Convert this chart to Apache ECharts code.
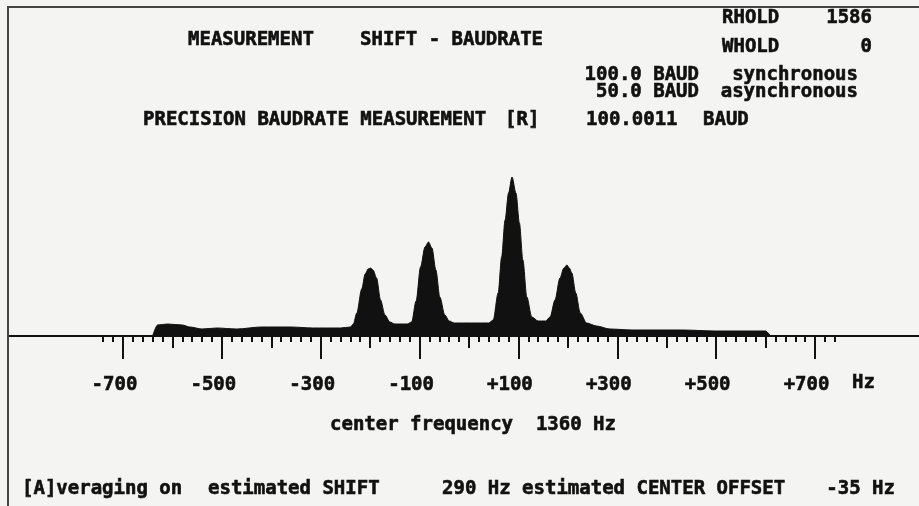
<!DOCTYPE html>
<html><head><meta charset="utf-8">
<script src="https://cdn.jsdelivr.net/npm/echarts@6/dist/echarts.min.js"></script>
<style>html,body{margin:0;padding:0;background:#f4f4f2;}#c{width:919px;height:506px;}</style>
</head><body><div id="c"></div><script>
// spectrum: frequency offset (Hz) and amplitude (arbitrary units)
const freqHz = [-640,-630,-610,-580,-565,-540,-510,-470,-420,-360,-316,-260,-240,-234,-227,-217,-210,-204,-199,-194,-187,-179,-170,-160,-150,-125,-116,-107,-98,-89,-82,-75,-67,-59,-49,-40,-30,40,49,59,66,73,80,87,95,102,109,117,127,140,155,164,174,184,192,198,203,208,216,225,238,258,285,330,430,500,600,610];
const amplitude = [0,11,12,11,9,7,8,7,9,9,8,8,9,12,23,47,62,67,68,66,58,36,21,14,12,12,14,35,69,89,94,88,66,39,21,15,13,13,16,43,79,116,143,159,143,113,76,39,19,15,15,19,36,58,68,71,68,63,43,23,13,10,7,6,6,5,5,0];
const minorStepHz = 20;
const midTickHz = [-600,-400,-200,0,200,400,600];
const majorTickHz = [-700,-500,-300,-100,100,300,500,700];
const tickLabels = ['-700','-500','-300','-100','+100','+300','+500','+700'];

const FONT = 'bold 19px "DejaVu Sans Mono"';
const INK = '#111';
function txt(x, y, s, align) {
  return {type:'text', x:x, y:y, z:10, style:{text:s, font:FONT, fill:INK, stroke:INK, lineWidth:0.6,
    textAlign:align||'left', textVerticalAlign:'middle'}};
}
const chart = echarts.init(document.getElementById('c'), null, {renderer:'canvas'});
const axisBase = {type:'value', gridIndex:0, min:-740, max:740, position:'bottom',
  axisLine:{show:false}, splitLine:{show:false}};
const option = {
  backgroundColor:'#f4f4f2',
  animation:false,
  grid:{left:103.2, right:84.2, top:136, bottom:170},
  xAxis:[
    Object.assign({}, axisBase, {interval:minorStepHz,
      axisTick:{show:true, length:6, lineStyle:{width:2, color:INK}},
      axisLabel:{show:false}}),
    Object.assign({}, axisBase, {
      axisTick:{show:true, customValues:midTickHz, length:12, lineStyle:{width:2, color:INK}},
      axisLabel:{show:false}}),
    Object.assign({}, axisBase, {
      axisTick:{show:true, customValues:majorTickHz, length:23, lineStyle:{width:2, color:INK}},
      axisLabel:{show:true, customValues:majorTickHz, margin:40, padding:[0,17,0,0],
        formatter:function(v){ const i = majorTickHz.indexOf(v); return i>=0 ? tickLabels[i] : ''; },
        fontFamily:'DejaVu Sans Mono', fontWeight:'bold', fontSize:19, color:INK,
        textBorderColor:INK, textBorderWidth:0.6}})
  ],
  yAxis:{type:'value', min:0, max:200, show:false},
  series:[{
    type:'line', xAxisIndex:0,
    data: freqHz.map(function(f,i){ return [f, amplitude[i]]; }),
    symbol:'none', smooth:0.3, smoothMonotone:'x',
    lineStyle:{color:INK, width:1},
    areaStyle:{color:INK, opacity:1, origin:'start'}
  }]
};
chart.setOption(option);
const base = chart.convertToPixel({gridIndex:0}, [0,0]);
const by = Math.round(base[1]);
chart.setOption({graphic:[
  {type:'line', z:5, shape:{x1:8, y1:by, x2:919, y2:by}, style:{stroke:INK, lineWidth:2}},
  {type:'polyline', z:5, shape:{points:[[8,506],[8,7],[919,7]]}, style:{stroke:'#444', lineWidth:2, fill:null}},
  txt(188, 40, 'MEASUREMENT'),
  txt(360, 40, 'SHIFT - BAUDRATE'),
  txt(722, 18, 'RHOLD'),
  txt(872, 18, '1586', 'right'),
  txt(722, 47, 'WHOLD'),
  txt(872, 47, '0', 'right'),
  txt(699, 75, '100.0 BAUD', 'right'),
  txt(858, 75, 'synchronous', 'right'),
  txt(699, 92, '50.0 BAUD', 'right'),
  txt(858, 92, 'asynchronous', 'right'),
  txt(143, 120, 'PRECISION BAUDRATE MEASUREMENT'),
  txt(505, 120, '[R]'),
  txt(586, 120, '100.0011'),
  txt(703, 120, 'BAUD'),
  txt(852, 383, 'Hz'),
  txt(330, 425, 'center frequency  1360 Hz'),
  txt(22, 489, '[A]veraging on'),
  txt(208, 489, 'estimated SHIFT'),
  txt(442, 489, '290 Hz estimated CENTER OFFSET'),
  txt(895, 489, '-35 Hz', 'right')
]});
</script></body></html>
